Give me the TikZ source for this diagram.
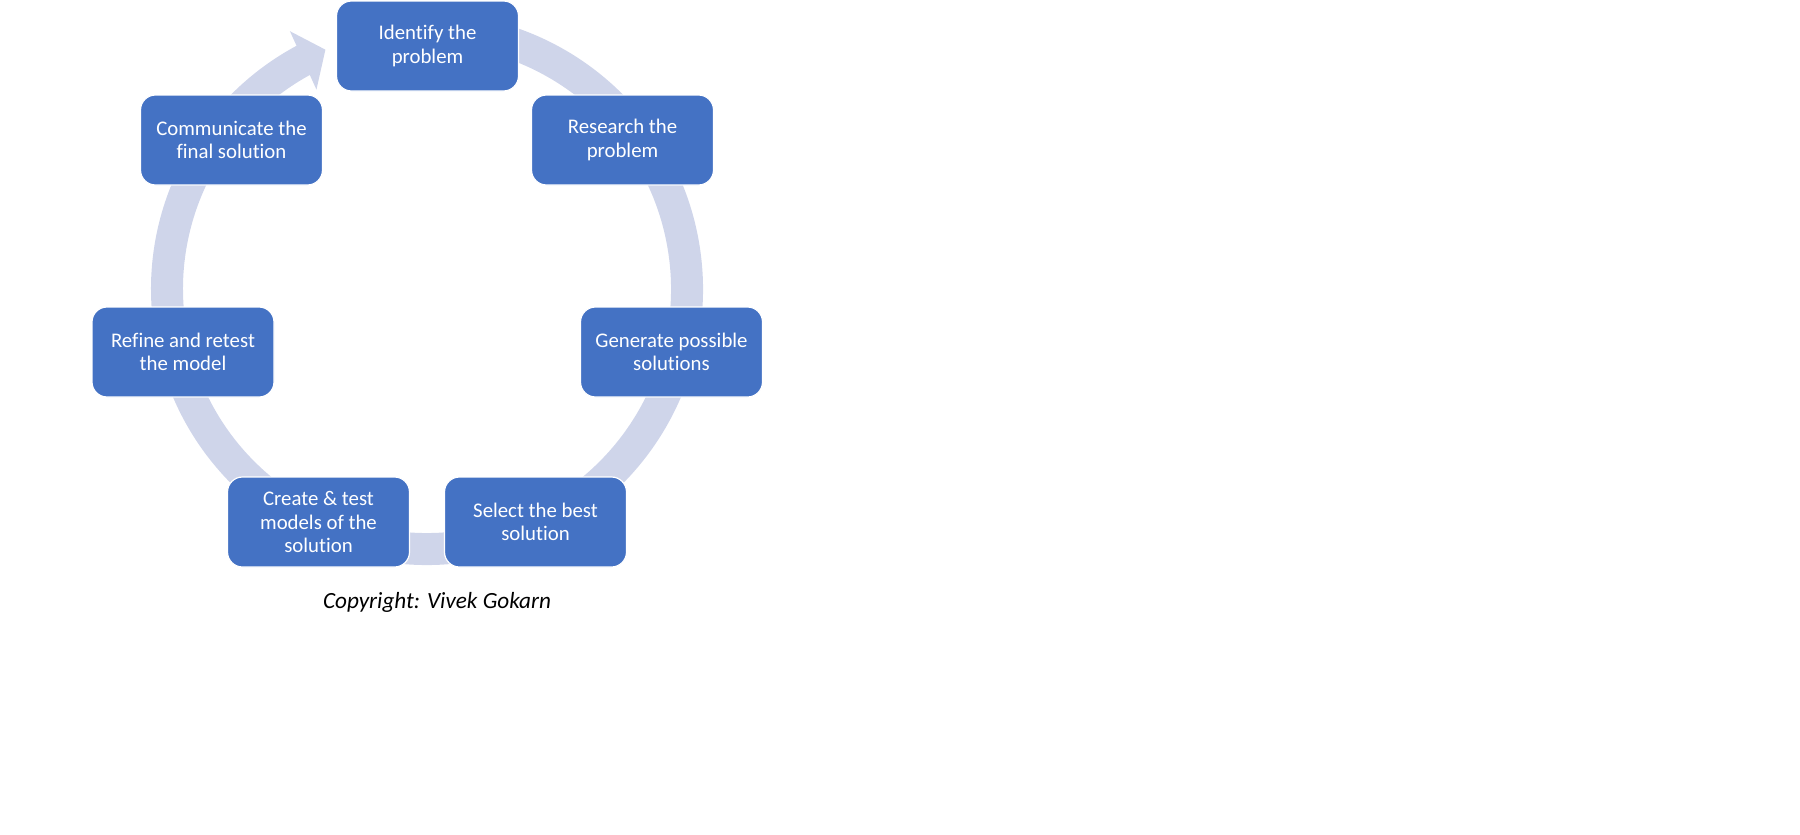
\documentclass[tikz,border=0pt]{standalone}
\usepackage{fontspec}
\setmainfont{Carlito}[Ligatures=NoCommon]
\definecolor{boxblue}{HTML}{4472C4}
\definecolor{ringblue}{HTML}{CFD5EA}
\tikzset{
  stepbox/.style={draw=white, line width=0.6pt, fill=boxblue, text=white,
    rounded corners=7.5pt, minimum width=91pt, minimum height=45pt,
    align=center, inner sep=2pt}
}
\begin{document}
\begin{tikzpicture}[line join=round, x=0.5pt, y=0.5pt, font=\fontsize{10.4}{11.8}\selectfont]
  % khung ảnh (đơn vị: điểm ảnh)
  \useasboundingbox (0,0) rectangle (1800,-835);
  \def\R{260}
  
  % tâm vòng tròn
  \coordinate (O) at (427,-289);
  
  % vòng mũi tên
  \draw[ringblue, line width=16pt] ([shift={(100:\R)}]O) arc[start angle=100, end angle=-242, radius=\R];
  \fill[ringblue] ([shift={(118:292)}]O) -- ([shift={(113:\R)}]O) -- ([shift={(119:228)}]O) -- cycle;
  
  % các bước
  \node[stepbox] (identify) at (427.5,-46) {Identify the\\problem};
  \node[stepbox] (research) at (622.5,-140) {Research the\\problem};
  \node[stepbox] (generate) at (671.5,-352) {Generate possible\\solutions};
  \node[stepbox] (select) at (535.5,-522) {Select the best\\solution};
  \node[stepbox] (create) at (318.5,-522) {Create \& test\\models of the\\solution};
  \node[stepbox] (refine) at (183,-352) {Refine and retest\\the model};
  \node[stepbox] (communicate) at (231.5,-140) {Communicate the\\final solution};
  
  % bản quyền
  \node[anchor=base, font=\fontsize{11.6}{14}\selectfont\itshape] (copyright) at (437,-608) {Copyright: Vivek Gokarn};
\end{tikzpicture}
\end{document}
